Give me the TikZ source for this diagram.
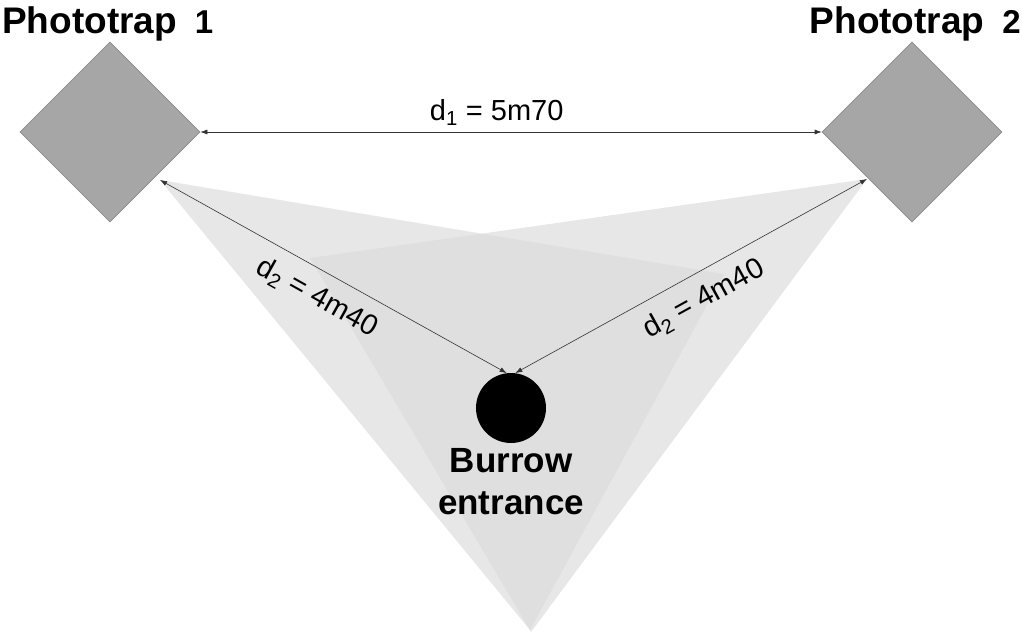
\documentclass[tikz,border=0pt]{standalone}
\usepackage{fontspec}
\setmainfont{Liberation Sans}
\usetikzlibrary{shapes.geometric,arrows.meta,positioning}
\definecolor{trapgray}{HTML}{A6A6A6}
\definecolor{trapedge}{HTML}{8C8C8C}
\definecolor{fovgray}{HTML}{DBDBDB}
\tikzset{
  trap/.style={diamond,fill=trapgray,draw=trapedge,line width=0.6pt,
    minimum width=180pt,minimum height=180pt,inner sep=0pt},
  fov/.style={fill=fovgray,fill opacity=0.67},
  dist/.style={{Latex[length=7pt,width=5pt]}-{Latex[length=7pt,width=5pt]},
    draw=black!80,line width=0.6pt},
  trapname/.style={font=\bfseries\fontsize{37}{40}\selectfont,inner sep=0pt},
  distlabel/.style={font=\fontsize{29}{32}\selectfont,inner sep=0pt}
}
\begin{document}
\begin{tikzpicture}[x=1pt,y=-1pt]
\useasboundingbox (0,0) rectangle (1022,632);
% fields of view
\coordinate (eye1) at (160,180);
\coordinate (eye2) at (867,179);
\fill[fov] (eye1) -- (724,274) -- (530,630) -- cycle;
\fill[fov] (eye2) -- (310,258) -- (531,632) -- cycle;
% traps and burrow
\node[trap] (trap1) at (110,132) {};
\node[trap] (trap2) at (912,132) {};
\node[trapname,anchor=base west] (name1) at (2,33) {Phototrap\hspace{18pt}{\fontsize{33}{34}\selectfont 1}};
\node[trapname,anchor=base east] (name2) at (1021,33) {Phototrap\hspace{18pt}{\fontsize{33}{34}\selectfont 2}};
\node[circle,fill=black,minimum size=70pt,inner sep=0pt] (burrow) at (511,408) {};
\node[below=5pt of burrow,align=center,inner sep=0pt,
  font=\bfseries\fontsize{35}{42}\selectfont] (entrance) {Burrow\\entrance};
% distances
\draw[dist] (trap1.east) -- node[distlabel,pos=0.477,above=6pt] {d\textsubscript{1} = 5m70} (trap2.west);
\draw[dist] (eye1) -- node[distlabel,pos=0.49,sloped,below=13pt] {d\textsubscript{2} = 4m40} (burrow.97);
\draw[dist] (burrow.83) -- node[distlabel,pos=0.5,sloped,below=13pt] {d\textsubscript{2} = 4m40} (eye2);
\end{tikzpicture}
\end{document}
